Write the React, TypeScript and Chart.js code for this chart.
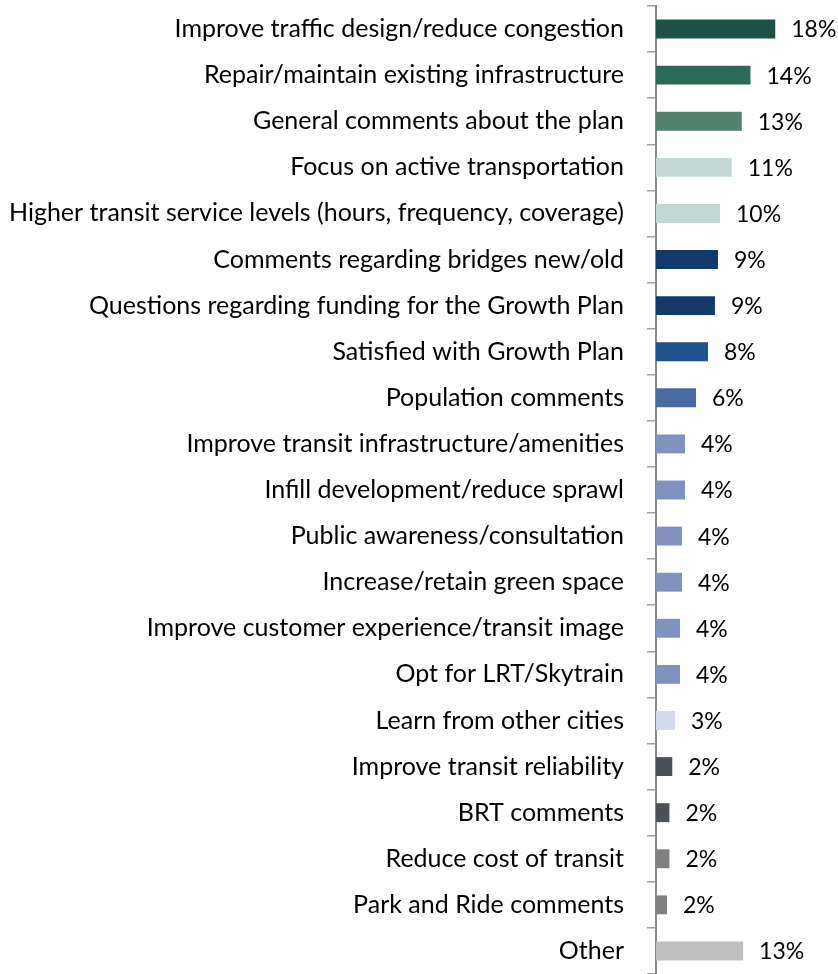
import React, { useEffect, useRef } from "react";
import { Chart, registerables } from "chart.js";

Chart.register(...registerables);

const categories: string[] = [
  "Improve traffic design/reduce congestion",
  "Repair/maintain existing infrastructure",
  "General comments about the plan",
  "Focus on active transportation",
  "Higher transit service levels (hours, frequency, coverage)",
  "Comments regarding bridges new/old",
  "Questions regarding funding for the Growth Plan",
  "Satisfied with Growth Plan",
  "Population comments",
  "Improve transit infrastructure/amenities",
  "Infill development/reduce sprawl",
  "Public awareness/consultation",
  "Increase/retain green space",
  "Improve customer experience/transit image",
  "Opt for LRT/Skytrain",
  "Learn from other cities",
  "Improve transit reliability",
  "BRT comments",
  "Reduce cost of transit",
  "Park and Ride comments",
  "Other",
];

const values: number[] = [
  17.8, 14.1, 12.8, 11.3, 9.55, 9.25, 8.8, 7.76, 5.97, 4.33, 4.33, 3.88, 3.88,
  3.58, 3.58, 2.84, 2.43, 2.0, 2.0, 1.64, 13.0,
];

const valueLabels: string[] = [
  "18%", "14%", "13%", "11%", "10%", "9%", "9%", "8%", "6%", "4%", "4%", "4%",
  "4%", "4%", "4%", "3%", "2%", "2%", "2%", "2%", "13%",
];

const barColors: string[] = [
  "#1F5246", "#2B6A57", "#548271", "#C3D8D4", "#C3D8D4", "#12396B", "#12396B",
  "#1F528F", "#4A6AA5", "#7F92C0", "#7F92C0", "#7F92C0", "#7F92C0", "#7F92C0",
  "#7F92C0", "#D2DAEA", "#4B505A", "#4B505A", "#808080", "#808080", "#BFBFBF",
];

const FONT = "Lato, 'Open Sans', sans-serif";

const valueLabelPlugin = {
  id: "valueLabels",
  afterDatasetsDraw(chart: any) {
    const ctx = chart.ctx;
    const meta = chart.getDatasetMeta(0);
    ctx.save();
    ctx.font = `23px ${FONT}`;
    ctx.fillStyle = "#000000";
    ctx.textAlign = "left";
    ctx.textBaseline = "middle";
    meta.data.forEach((bar: any, i: number) => {
      ctx.fillText(valueLabels[i], bar.x + 16, bar.y + 1);
    });
    ctx.restore();
  },
};

export default function App() {
  const canvasRef = useRef<HTMLCanvasElement | null>(null);

  useEffect(() => {
    if (!canvasRef.current) return;
    const chart = new Chart(canvasRef.current, {
      type: "bar",
      data: {
        labels: categories,
        datasets: [
          {
            data: values,
            backgroundColor: barColors,
            borderWidth: 0,
            barPercentage: 0.41,
            categoryPercentage: 1,
          },
        ],
      },
      options: {
        indexAxis: "y",
        animation: false,
        responsive: false,
        maintainAspectRatio: false,
        layout: { padding: { top: 6, bottom: 0, left: 0, right: 48 } },
        plugins: {
          legend: { display: false },
          tooltip: { enabled: false },
        },
        scales: {
          x: {
            display: false,
            min: 0,
            max: 20,
          },
          y: {
            type: "category",
            afterFit: (scale: any) => {
              scale.width = 656;
              scale.paddingTop = 0;
              scale.paddingBottom = 0;
            },
            grid: {
              offset: true,
              drawOnChartArea: false,
              drawTicks: true,
              tickLength: 9,
              color: "#A0A0A0",
              lineWidth: 1.5,
            },
            border: { display: true, color: "#8C8C8C", width: 2 },
            ticks: {
              color: "#000000",
              padding: 23,
              autoSkip: false,
              font: { family: FONT, size: 25 },
            },
          },
        },
      },
      plugins: [valueLabelPlugin],
    });
    return () => chart.destroy();
  }, []);

  return (
    <div style={{ position: "fixed", left: 0, top: 0, width: 838, height: 974, background: "#fff" }}>
      <canvas ref={canvasRef} width={838} height={974} style={{ width: 838, height: 974 }} />
    </div>
  );
}
